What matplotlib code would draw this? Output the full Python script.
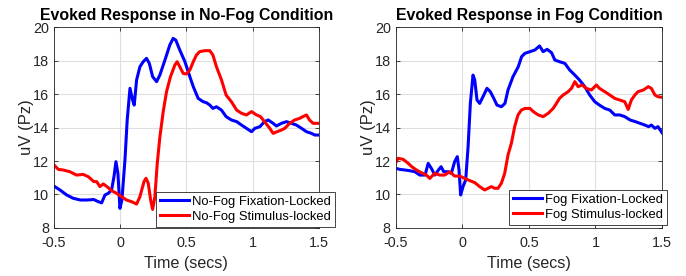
import numpy as np
import matplotlib.pyplot as plt

plt.rcParams['font.family'] = ['Liberation Sans', 'DejaVu Sans']

# ---- data ----
t_nf_fix = [-0.5, -0.455, -0.404, -0.354, -0.30, -0.25, -0.20, -0.165, -0.14, -0.115, -0.09,
            -0.065, -0.047, -0.032, -0.017, -0.002, 0.013, 0.036, 0.053, 0.074, 0.094, 0.106,
            0.124, 0.149, 0.174, 0.199, 0.22, 0.245, 0.275, 0.30, 0.338, 0.375, 0.40, 0.42,
            0.45, 0.489, 0.526, 0.552, 0.589, 0.627, 0.652, 0.677, 0.70, 0.727, 0.765, 0.80,
            0.84, 0.88, 0.916, 0.954, 0.992, 1.017, 1.055, 1.09, 1.118, 1.155, 1.18, 1.218,
            1.256, 1.294, 1.33, 1.37, 1.407, 1.445, 1.47, 1.5]
v_nf_fix = [10.5, 10.27, 9.97, 9.77, 9.67, 9.67, 9.7, 9.57, 9.5, 9.97, 10.07,
            10.27, 11.06, 11.96, 11.26, 9.17, 9.67, 12.06, 14.45, 16.34, 15.64, 15.34,
            16.84, 17.63, 17.93, 18.13, 17.83, 17.04, 16.74, 17.14, 18.03, 18.93, 19.32, 19.22,
            18.63, 17.93, 17.04, 16.44, 15.74, 15.54, 15.48, 15.34, 15.14, 15.24, 15.04, 14.65,
            14.45, 14.35, 14.15, 13.95, 13.75, 13.95, 14.05, 14.35, 14.45, 14.25, 14.09, 14.25,
            14.35, 14.25, 14.15, 13.95, 13.75, 13.65, 13.55, 13.55]

t_nf_stim = [-0.5, -0.467, -0.43, -0.38, -0.33, -0.28, -0.24, -0.20, -0.178, -0.153, -0.128,
             -0.10, -0.065, -0.027, 0.011, 0.048, 0.086, 0.124, 0.149, 0.18, 0.195, 0.212,
             0.23, 0.245, 0.262, 0.28, 0.30, 0.325, 0.35, 0.38, 0.413, 0.43, 0.45, 0.476,
             0.50, 0.526, 0.552, 0.576, 0.60, 0.64, 0.677, 0.70, 0.727, 0.765, 0.80, 0.84,
             0.88, 0.916, 0.954, 0.992, 1.03, 1.06, 1.09, 1.13, 1.155, 1.185, 1.218, 1.243,
             1.28, 1.318, 1.356, 1.38, 1.407, 1.43, 1.457, 1.5]
v_nf_stim = [11.76, 11.5, 11.46, 11.36, 11.16, 11.2, 11.06, 10.77, 10.77, 10.47, 10.63,
             10.47, 10.23, 10.07, 9.87, 9.67, 9.57, 9.43, 9.87, 10.77, 10.97, 10.67,
             9.67, 9.11, 9.87, 11.86, 13.45, 14.95, 16.14, 17.04, 17.73, 17.93, 17.63, 17.23,
             17.2, 17.43, 17.93, 18.33, 18.53, 18.59, 18.59, 18.33, 17.63, 16.84, 15.94, 15.54,
             15.04, 14.85, 14.75, 14.95, 14.75, 14.65, 14.35, 13.95, 13.65, 13.75, 13.85, 13.95,
             14.25, 14.45, 14.55, 14.65, 14.75, 14.45, 14.25, 14.25]

t_f_fix = [-0.5, -0.47, -0.43, -0.395, -0.357, -0.32, -0.28, -0.257, -0.233, -0.207, -0.18,
           -0.16, -0.14, -0.108, -0.083, -0.058, -0.038, -0.025, -0.013, 0.005, 0.025, 0.043,
           0.06, 0.08, 0.093, 0.11, 0.13, 0.155, 0.185, 0.21, 0.236, 0.26, 0.293, 0.32,
           0.343, 0.38, 0.42, 0.445, 0.47, 0.508, 0.545, 0.58, 0.607, 0.637, 0.67, 0.695,
           0.73, 0.77, 0.807, 0.845, 0.88, 0.92, 0.957, 0.995, 1.03, 1.07, 1.108, 1.145,
           1.183, 1.22, 1.26, 1.3, 1.335, 1.37, 1.4, 1.42, 1.447, 1.47, 1.5]
v_f_fix = [11.56, 11.5, 11.46, 11.42, 11.36, 11.16, 11.16, 11.86, 11.56, 11.16, 11.46,
           11.66, 11.36, 11.36, 11.26, 11.96, 12.26, 11.46, 9.97, 10.47, 10.87, 12.86,
           15.44, 17.13, 16.84, 15.64, 15.44, 15.84, 16.34, 16.14, 15.74, 15.34, 15.24, 15.44,
           16.24, 17.03, 17.63, 18.23, 18.43, 18.53, 18.63, 18.87, 18.53, 18.67, 18.47, 18.03,
           17.93, 17.83, 17.43, 17.13, 16.84, 16.44, 15.94, 15.54, 15.34, 15.14, 15.04, 14.75,
           14.75, 14.65, 14.45, 14.35, 14.25, 14.15, 14.05, 14.15, 13.95, 14.05, 13.69]

t_f_stim = [-0.5, -0.483, -0.445, -0.407, -0.38, -0.345, -0.308, -0.27, -0.245, -0.208, -0.17,
            -0.133, -0.095, -0.058, -0.02, 0.018, 0.055, 0.093, 0.13, 0.168, 0.193, 0.218,
            0.243, 0.268, 0.293, 0.318, 0.343, 0.368, 0.393, 0.418, 0.443, 0.47, 0.508, 0.533,
            0.57, 0.607, 0.645, 0.682, 0.707, 0.73, 0.757, 0.795, 0.82, 0.845, 0.87, 0.9,
            0.93, 0.97, 1.007, 1.03, 1.07, 1.108, 1.145, 1.183, 1.22, 1.246, 1.27, 1.296,
            1.32, 1.36, 1.397, 1.42, 1.447, 1.47, 1.5]
v_f_stim = [11.9, 12.16, 12.1, 11.86, 11.66, 11.46, 11.3, 11.16, 10.96, 11.26, 11.16,
            11.16, 11.36, 11.1, 11.1, 10.96, 10.83, 10.71, 10.47, 10.27, 10.37, 10.47,
            10.37, 10.37, 10.67, 11.26, 12.36, 13.05, 14.05, 14.75, 15.04, 15.14, 15.14, 14.95,
            14.75, 14.65, 14.85, 15.14, 15.44, 15.74, 15.94, 16.14, 16.34, 16.74, 16.44, 16.54,
            16.34, 16.24, 16.54, 16.34, 16.14, 15.94, 15.74, 15.64, 15.54, 15.08, 15.64, 15.94,
            16.14, 16.24, 16.44, 16.34, 15.94, 15.84, 15.8]

titles = ['Evoked Response in No-Fog Condition', 'Evoked Response in Fog Condition']
labels = [['No-Fog Fixation-Locked', 'No-Fog Stimulus-locked'],
          ['Fog Fixation-Locked', 'Fog Stimulus-locked']]
xticks = [-0.5, 0, 0.5, 1, 1.5]
xticklabels = ['-0.5', '0', '0.5', '1', '1.5']
yticks = [8, 10, 12, 14, 16, 18, 20]

fig = plt.figure(figsize=(6.86, 2.76), dpi=100)
ax1 = fig.add_axes([0.0787, 0.174, 0.386, 0.728])
ax2 = fig.add_axes([0.577, 0.174, 0.388, 0.728])

dark = '#262626'
series = [(t_nf_fix, v_nf_fix, t_nf_stim, v_nf_stim), (t_f_fix, v_f_fix, t_f_stim, v_f_stim)]
legpos = [(1.06, 0.005), (1.02, 0.015)]

for i, ax in enumerate([ax1, ax2]):
    tb, vb, tr, vr = series[i]
    ax.plot(tb, vb, color='#0000ff', lw=2.2, label=labels[i][0])
    ax.plot(tr, vr, color='#ff0000', lw=2.2, label=labels[i][1])
    ax.set_xlim(-0.5, 1.5)
    ax.set_ylim(8, 20)
    ax.set_xticks(xticks)
    ax.set_xticklabels(xticklabels)
    ax.set_yticks(yticks)
    ax.grid(True, color='#dfdfdf', lw=0.8)
    ax.set_axisbelow(True)
    ax.tick_params(direction='in', length=3, width=0.6, colors=dark, labelsize=10.4,
                   top=True, right=True)
    ax.tick_params(axis='x', pad=6)
    ax.tick_params(axis='y', pad=3.6)
    for s in ax.spines.values():
        s.set_color(dark)
        s.set_linewidth(0.6)
    ax.set_xlabel('Time (secs)', fontsize=11.6, color=dark, labelpad=4)
    ax.set_ylabel('uV (Pz)', fontsize=12, color=dark, labelpad=-1)
    ax.set_title(titles[i], fontsize=11.4, fontweight='bold', pad=5)
    leg = ax.legend(loc='lower right', bbox_to_anchor=legpos[i], borderaxespad=0,
                    fancybox=False, edgecolor=dark, framealpha=1, fontsize=9.4,
                    handlelength=2.2, handletextpad=0.25, borderpad=0.3, labelspacing=0.25)
    leg.get_frame().set_linewidth(0.6)

fig.savefig('out.png', dpi=100)
